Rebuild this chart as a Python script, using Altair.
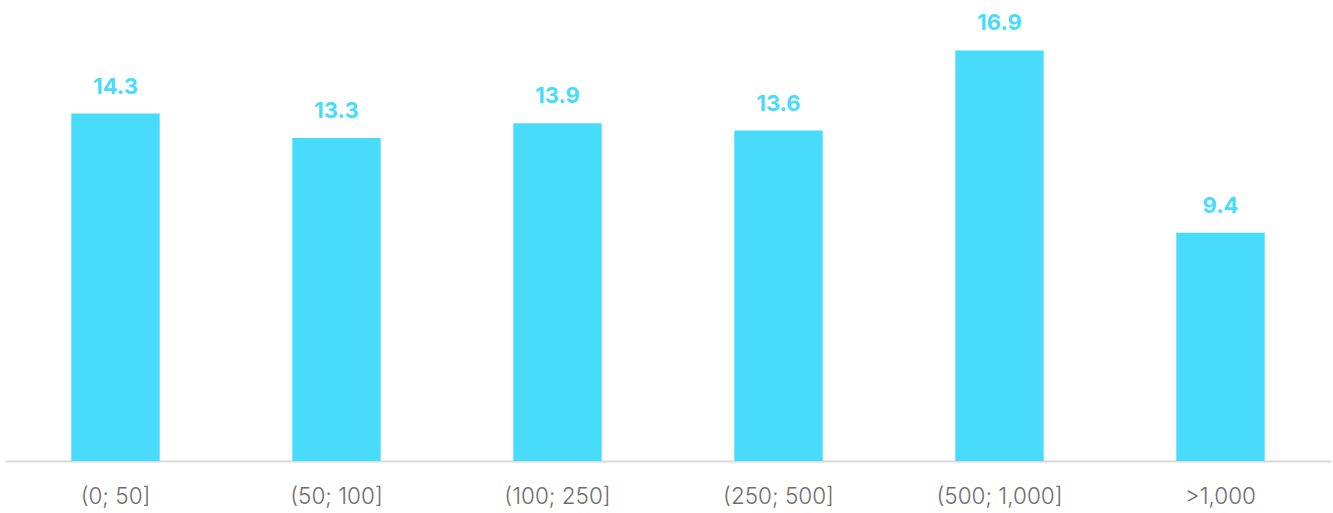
import altair as alt
import pandas as pd

categories = ["(0; 50]", "(50; 100]", "(100; 250]", "(250; 500]", "(500; 1,000]", ">1,000"]
values = [14.3, 13.3, 13.9, 13.6, 16.9, 9.4]

df = pd.DataFrame({"cat": categories, "val": values})
color = "#48DBFB"

x = alt.X("cat:N", sort=categories, title=None,
          scale=alt.Scale(paddingInner=0.6, paddingOuter=0.3),
          axis=alt.Axis(labelAngle=0, labelFont="Inter", labelFontSize=22.5, labelFontWeight=300,
                        labelColor="#716c6c", labelPadding=24, ticks=False,
                        domainColor="#d9d9d9", domainWidth=2, grid=False))
y = alt.Y("val:Q", scale=alt.Scale(domain=[0, 17], nice=False), axis=None)

bars = alt.Chart(df).mark_bar(color=color).encode(x=x, y=y)
labels = alt.Chart(df).mark_text(color=color, font="Inter", fontSize=22, fontWeight="bold",
                                 baseline="bottom", dy=-15).encode(
    x=alt.X("cat:N", sort=categories), y="val:Q", text=alt.Text("val:Q", format=".1f"))

chart = (bars + labels).properties(
    width=1326, height=413,
    background="white",
    autosize=alt.AutoSizeParams(type="none"),
    padding={"left": 5, "top": 48, "right": 2, "bottom": 52},
).configure_view(strokeWidth=0, stroke="transparent")

chart.save("out.html", embed_options={"renderer": "svg", "actions": False})
